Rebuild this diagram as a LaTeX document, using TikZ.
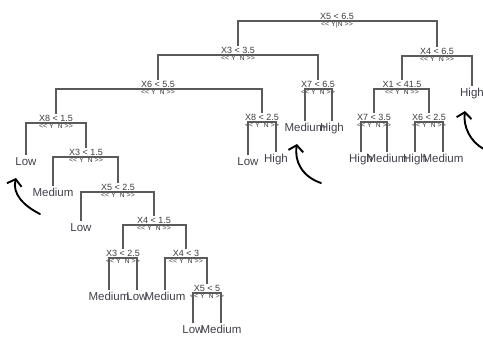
\documentclass[tikz,border=0pt]{standalone}
\usepackage{fontspec}
\setmainfont{Liberation Sans}[Ligatures=TeXOff]
\usetikzlibrary{arrows.meta}
\definecolor{rptext}{HTML}{3C3C3C}
\definecolor{rpline}{HTML}{5A5A5A}
\definecolor{rpleaf}{HTML}{40404A}

\begin{document}
\begin{tikzpicture}[x=1pt, y=-1pt,
  cond/.style={anchor=south, inner sep=1pt, text=rptext, font=\fontsize{9}{9}\selectfont},
  yn/.style={inner sep=0.5pt, text=rptext, font=\fontsize{7}{7}\selectfont},
  leaf/.style={anchor=north, inner sep=2pt, text=rpleaf, font=\fontsize{11.5}{11.5}\selectfont},
  edge/.style={draw=rpline, line width=1.2pt},
  hint/.style={draw=black, line width=1.9pt, line cap=round, -{Straight Barb[length=6pt,width=15pt]}}]
  \useasboundingbox (0,0) rectangle (483,341);

  % splits
  \node[cond, label={[yn]below:{<< Y|N >>}}] (s1) at (337,21) {X5 < 6.5};
  \node[cond, label={[yn]below:{<< Y\ \ N >>}}] (s2) at (238,55) {X3 < 3.5};
  \node[cond, label={[yn]below:{<< Y\ \ N >>}}] (s3) at (158,89) {X6 < 5.5};
  \node[cond, label={[yn]below:{<< Y\ \ N >>}}] (s4) at (56,123) {X8 < 1.5};
  \node[cond, label={[yn]below:{<< Y\ \ N >>}}] (s5) at (86,157) {X3 < 1.5};
  \node[cond, label={[yn]below:{<< Y\ \ N >>}}] (s6) at (118,192) {X5 < 2.5};
  \node[cond, label={[yn]below:{<< Y\ \ N >>}}] (s7) at (154,225) {X4 < 1.5};
  \node[cond, label={[yn]below:{<< Y\ \ N >>}}] (s8) at (123,258) {X3 < 2.5};
  \node[cond, label={[yn]below:{<< Y\ \ N >>}}] (s9) at (186,258) {X4 < 3};
  \node[cond, label={[yn]below:{<< Y\ \ N >>}}] (s10) at (207,293) {X5 < 5};
  \node[cond, label={[yn]below:{<< Y\ \ N >>}}] (s11) at (262,122) {X8 < 2.5};
  \node[cond, label={[yn]below:{<< Y\ \ N >>}}] (s12) at (318,89) {X7 < 6.5};
  \node[cond, label={[yn]below:{<< Y\ \ N >>}}] (s13) at (437,56) {X4 < 6.5};
  \node[cond, label={[yn]below:{<< Y\ \ N >>}}] (s14) at (402,89) {X1 < 41.5};
  \node[cond, label={[yn]below:{<< Y\ \ N >>}}] (s15) at (374,122) {X7 < 3.5};
  \node[cond, label={[yn]below:{<< Y\ \ N >>}}] (s16) at (429,122) {X6 < 2.5};

  % leaves
  \node[leaf] (l1) at (26,155) {Low};
  \node[leaf] (l2) at (53,186) {Medium};
  \node[leaf] (l3) at (81,221) {Low};
  \node[leaf] (l4) at (109,290) {Medium};
  \node[leaf] (l5) at (137,290) {Low};
  \node[leaf] (l6) at (165,290) {Medium};
  \node[leaf] (l7) at (193,323) {Low};
  \node[leaf] (l8) at (221,323) {Medium};
  \node[leaf] (l9) at (248,155) {Low};
  \node[leaf] (l10) at (276,152) {High};
  \node[leaf] (l11) at (305,121) {Medium};
  \node[leaf] (l12) at (332,121) {High};
  \node[leaf] (l13) at (361,152) {High};
  \node[leaf] (l14) at (387,152) {Medium};
  \node[leaf] (l15) at (415,152) {High};
  \node[leaf] (l16) at (443,152) {Medium};
  \node[leaf] (l17) at (472,86) {High};

  % branches
  \draw[edge] (s2.north) |- (s1.south) -| (s13.north);
  \draw[edge] (s3.north) |- (s2.south) -| (s12.north);
  \draw[edge] (s4.north) |- (s3.south) -| (s11.north);
  \draw[edge] (l1.north) |- (s4.south) -| (s5.north);
  \draw[edge] (l2.north) |- (s5.south) -| (s6.north);
  \draw[edge] (l3.north) |- (s6.south) -| (s7.north);
  \draw[edge] (s8.north) |- (s7.south) -| (s9.north);
  \draw[edge] (l4.north) |- (s8.south) -| (l5.north);
  \draw[edge] (l6.north) |- (s9.south) -| (s10.north);
  \draw[edge] (l7.north) |- (s10.south) -| (l8.north);
  \draw[edge] (l9.north) |- (s11.south) -| (l10.north);
  \draw[edge] (l11.north) |- (s12.south) -| (l12.north);
  \draw[edge] (s14.north) |- (s13.south) -| (l17.north);
  \draw[edge] (s15.north) |- (s14.south) -| (s16.north);
  \draw[edge] (l13.north) |- (s15.south) -| (l14.north);
  \draw[edge] (l15.north) |- (s16.south) -| (l16.north);

  % hand-drawn pointers
  \coordinate (a1) at (40,214);
  \coordinate (a1h) at (16,178);
  \coordinate (a2) at (321,183);
  \coordinate (a2h) at (297,144);
  \coordinate (a3) at (484,149);
  \coordinate (a3h) at (465,111);
  \draw[hint] (a1) .. controls (24,206) and (12,194) .. (a1h);
  \draw[hint] (a2) .. controls (303,177) and (294,162) .. (a2h);
  \draw[hint] (a3) .. controls (470,142) and (463,126) .. (a3h);
\end{tikzpicture}
\end{document}
